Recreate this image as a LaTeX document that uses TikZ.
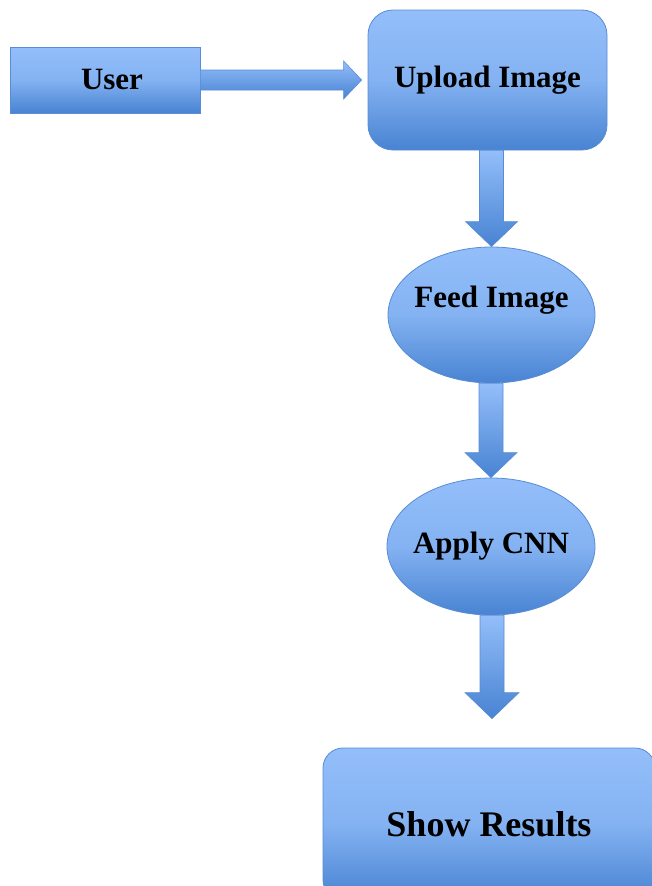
\documentclass[tikz,border=0pt]{standalone}
\usepackage{fontspec}
\setmainfont{Liberation Serif}
\usetikzlibrary{shapes.geometric,calc}
\definecolor{boxtop}{RGB}{147, 190, 250}
\definecolor{boxbottom}{RGB}{72, 131, 210}
\definecolor{boxedge}{RGB}{88, 140, 212}

\begin{document}
\begin{tikzpicture}[x=1pt, y=1pt,
		stage/.style={draw=boxedge, line width=0.8pt, top color=boxtop, bottom color=boxbottom, middle color=boxtop!80!boxbottom, inner sep=0pt, font=\fontsize{31}{37}\selectfont\bfseries},
		caption/.style={inner sep=0pt, font=\fontsize{31}{37}\selectfont\bfseries},
		flow/.style={draw=boxedge, line width=0.6pt, top color=boxtop, bottom color=boxbottom}]
			\useasboundingbox (0, 0) rectangle (652, -886);
			\clip (0, 0) rectangle (652, -886);
			% steps
			\node[stage, minimum width=190pt, minimum height=66pt] (user) at (105, -80) {\hspace*{14pt}User};
			\node[stage, rounded corners=25pt, minimum width=239pt, minimum height=140pt] (upload) at (487.5, -80) {Upload Image};
			\node[stage, ellipse, minimum width=207pt, minimum height=136pt] (feed) at (491.5, -315) {};
			\node[caption] (feedtext) at ([yshift=15pt]feed.center) {Feed Image};
			\node[stage, ellipse, minimum width=208pt, minimum height=137pt] (apply) at (491, -546.5) {};
			\node[caption] (applytext) at (apply.center) {Apply CNN};
			\node[stage, rounded corners=20pt, minimum width=332pt, minimum height=152pt, font=\fontsize{36}{43}\selectfont\bfseries] (show) at (489, -824) {Show Results};
			\coordinate (showtip) at ($(show.north)+(3, 29)$);
			% block arrows
			\path[flow] ($(user.east)+(0, 10)$) -- ($(upload.west)+(-24, 10)$) -- ($(upload.west)+(-24, 19)$) -- ($(upload.west)+(-6, 0)$) -- ($(upload.west)+(-24, -19)$) -- ($(upload.west)+(-24, -10)$) -- ($(user.east)+(0, -10)$) -- cycle;
			\path[flow] ($(upload.south -| feed.north)+(-12, 0)$) -- ($(feed.north)+(-12, 25)$) -- ($(feed.north)+(-26, 25)$) -- (feed.north) -- ($(feed.north)+(26, 25)$) -- ($(feed.north)+(12, 25)$) -- ($(upload.south -| feed.north)+(12, 0)$) -- cycle;
			\path[flow] ($(feed.south -| apply.north)+(-12, 0)$) -- ($(apply.north)+(-12, 25)$) -- ($(apply.north)+(-26, 25)$) -- (apply.north) -- ($(apply.north)+(26, 25)$) -- ($(apply.north)+(12, 25)$) -- ($(feed.south -| apply.north)+(12, 0)$) -- cycle;
			\path[flow] ($(apply.south -| showtip)+(-12, 0)$) -- ($(showtip)+(-12, 26)$) -- ($(showtip)+(-27, 26)$) -- (showtip) -- ($(showtip)+(27, 26)$) -- ($(showtip)+(12, 26)$) -- ($(apply.south -| showtip)+(12, 0)$) -- cycle;
		\end{tikzpicture}
\end{document}
